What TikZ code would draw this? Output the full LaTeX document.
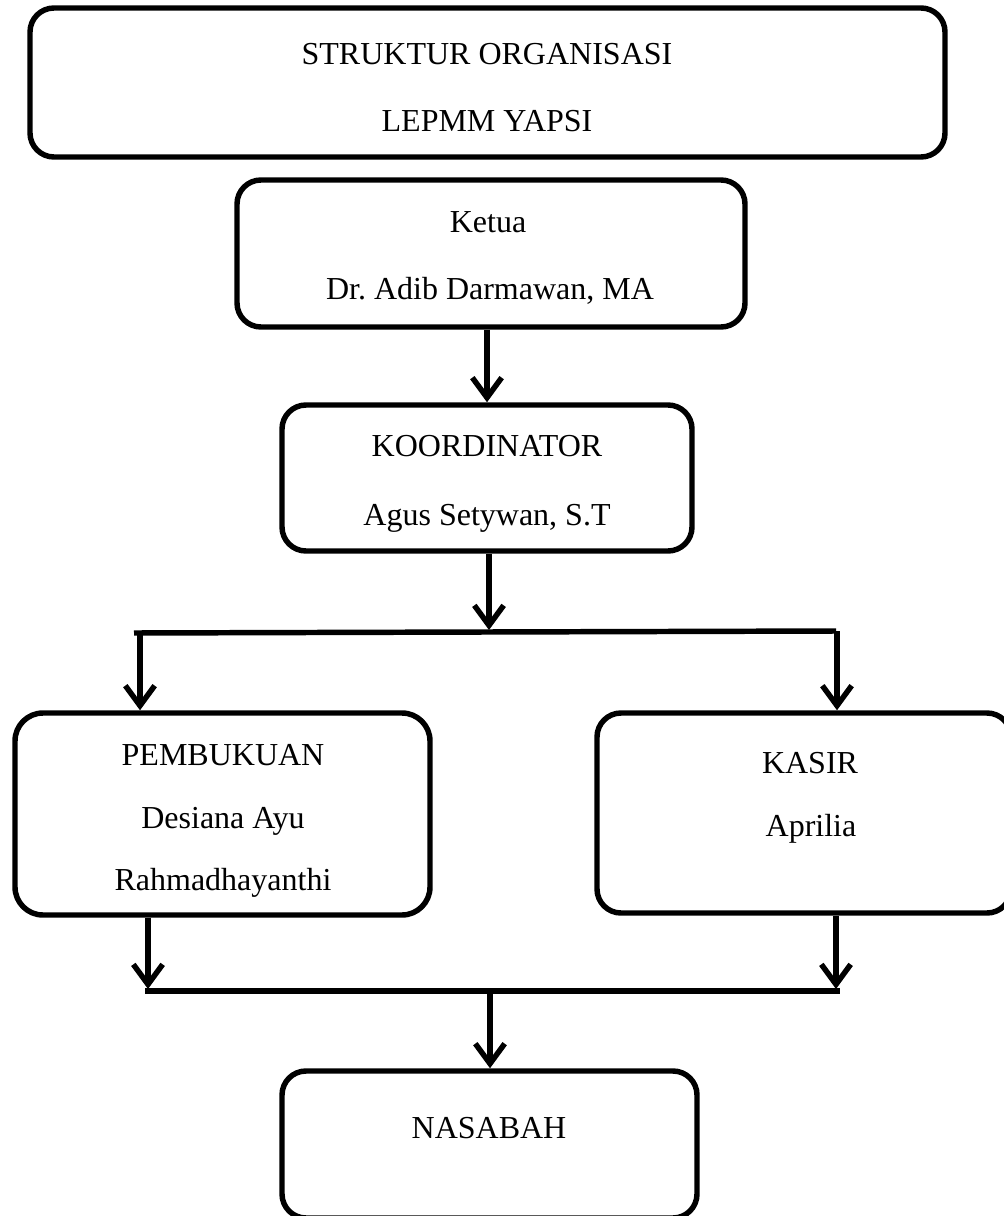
\documentclass[tikz,border=0pt]{standalone}
\usepackage{fontspec}
\setmainfont{Liberation Serif}
\usetikzlibrary{arrows.meta,calc}
\begin{document}
\frenchspacing
\begin{tikzpicture}[x=0.75pt,y=-0.75pt,
  box/.style={draw, line width=4.1pt, rounded corners=18pt, inner sep=0pt},
  txt/.style={font=\fontsize{24}{28}\selectfont, anchor=base, inner sep=0pt},
  arr/.style={line width=4.1pt, -{Straight Barb[length=15pt,width=22pt]}},
  ln/.style={line width=4.1pt}]
\useasboundingbox (0,0) rectangle (1003,1216);
% boxes
\node[box, minimum width=686.25pt, minimum height=111.75pt] (title) at (487.5,82.5) {};
\node[box, minimum width=381pt, minimum height=110.25pt] (ketua) at (491,253.5) {};
\node[box, minimum width=307.5pt, minimum height=109.5pt] (koord) at (487,478) {};
\node[box, minimum width=311.25pt, minimum height=151.5pt, rounded corners=21pt] (pemb) at (222.5,814) {};
\node[box, minimum width=310.5pt, minimum height=150pt] (kasir) at (804,813) {};
\node[box, minimum width=311.25pt, minimum height=110.25pt] (nasabah) at (489.5,1144.5) {};
% texts
\node[txt] (t1) at (487,65) {STRUKTUR ORGANISASI};
\node[txt] (t2) at (487,132) {LEPMM YAPSI};
\node[txt] (k1) at (488,233) {Ketua};
\node[txt] (k2) at (490,299) {Dr. Adib Darmawan, MA};
\node[txt] (c1) at (487,456) {KOORDINATOR};
\node[txt] (c2) at (487,525) {Agus Setywan, S.T};
\node[txt] (p1) at (223,765) {PEMBUKUAN};
\node[txt] (p2) at (223,828) {Desiana Ayu};
\node[txt] (p3) at (223,890) {Rahmadhayanthi};
\node[txt] (s1) at (810,773) {KASIR};
\node[txt] (s2) at (811,836) {Aprilia};
\node[txt] (n1) at (489,1138) {NASABAH};
% junction coordinates
\coordinate (j1) at (489,632);
\coordinate (j1l) at (134,633);
\coordinate (j1r) at (836,631);
\coordinate (d1) at (140,633);
\coordinate (d2) at (837,631);
\coordinate (u1) at (148,991);
\coordinate (u2) at (836,991);
\coordinate (m1l) at (145,991);
\coordinate (m1r) at (840,991);
\coordinate (m) at (490,991);
% connectors
\draw[arr] (ketua.south -| koord.north) -- (koord.north);
\draw[arr, shorten >=1.5pt] (koord.south -| j1) -- (j1);
\draw[ln] (j1l) -- (j1r);
\draw[arr] (d1) -- (d1 |- pemb.north);
\draw[arr] (d2) -- (d2 |- kasir.north);
\draw[arr, shorten >=1.5pt] (pemb.south -| u1) -- (u1);
\draw[arr, shorten >=1.5pt] (kasir.south -| u2) -- (u2);
\draw[ln] (m1l) -- (m1r);
\draw[arr] (m) -- (m |- nasabah.north);
\end{tikzpicture}
\end{document}
